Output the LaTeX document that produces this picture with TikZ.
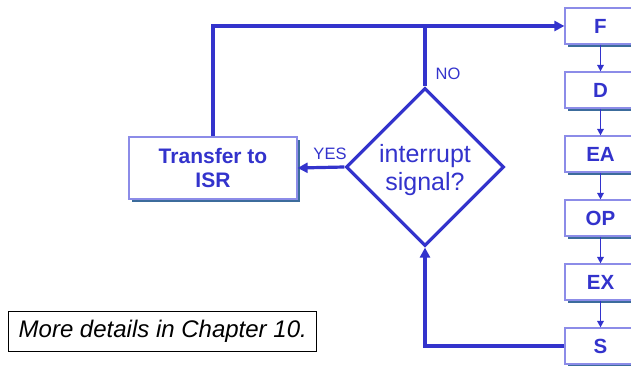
\documentclass[tikz,border=0pt]{standalone}
\usepackage{fontspec}
\setmainfont{Liberation Sans}
\usetikzlibrary{shapes.geometric,arrows.meta,shadows}
\definecolor{flow}{HTML}{3333CC}
\definecolor{rim}{HTML}{8C8CE8}
\definecolor{shade}{HTML}{3C6C9C}
\begin{document}
\begin{tikzpicture}[x=1pt,y=-1pt,
  boxshadow/.style={drop shadow={shadow xshift=3pt,shadow yshift=-3pt,fill=shade,opacity=1}},
  stage/.style={draw=rim,line width=1.2pt,fill=white,boxshadow,
    minimum width=71pt,minimum height=36pt,inner sep=0pt,
    font=\bfseries\fontsize{20.5}{22}\selectfont,text=flow},
  action/.style={draw=rim,line width=1.2pt,fill=white,boxshadow,
    minimum width=168pt,minimum height=62pt,inner sep=0pt,align=center,
    font=\bfseries\fontsize{21}{24}\selectfont,text=flow},
  decision/.style={diamond,draw=flow,line width=3.2pt,inner sep=0pt,
    minimum width=158pt,minimum height=158pt,align=center,
    font=\fontsize{25}{28.5}\selectfont,text=flow},
  link/.style={draw=flow,line width=3.2pt},
  linkarrow/.style={link,-{Triangle[length=10pt,width=10pt]}},
  steparrow/.style={draw=flow,line width=1.6pt,-{Triangle[length=6.5pt,width=6.5pt]}},
  tag/.style={text=flow,font=\fontsize{16.5}{18}\selectfont,inner sep=0pt},
  note/.style={draw=black,line width=0.8pt,minimum width=308pt,minimum height=40pt,
    inner sep=0pt,font=\itshape\fontsize{24}{26}\selectfont}]
\useasboundingbox (0,0) rectangle (631,366);

% instruction cycle stages
\node[stage] (F)  at (600.5,26)  {F};
\node[stage] (D)  at (600.5,90)  {D};
\node[stage] (EA) at (600.5,154) {EA};
\node[stage] (OP) at (600.5,218) {OP};
\node[stage] (EX) at (600.5,282) {EX};
\node[stage] (S)  at (600.5,346) {S};

\draw[steparrow] (F) -- (D);
\draw[steparrow] (D) -- (EA);
\draw[steparrow] (EA) -- (OP);
\draw[steparrow] (OP) -- (EX);
\draw[steparrow] (EX) -- (S);

% interrupt check
\node[decision] (check) at (425,167) {};
\node[text=flow,font=\fontsize{25}{28.5}\selectfont,align=center,inner sep=0pt]
  (checktext) at (425,170) {interrupt\\signal?};
\node[action] (isr) at (213,168) {Transfer to\\ISR};

\coordinate (topleft) at (isr.north |- F.west);
\coordinate (topmid) at (check.north |- F.west);

\draw[linkarrow] (isr.north) -- (topleft) -- (F.west);
\draw[link] (check.north) -- (topmid);
\draw[linkarrow] (check.west) -- (isr.east);
\draw[linkarrow] (S.west) -| (check.south);

\node[tag] (yes) at (330,154) {YES};
\node[tag] (no) at (448,74) {NO};

\node[note] (more) at (162.75,331) {More details in Chapter 10.};
\end{tikzpicture}
\end{document}
